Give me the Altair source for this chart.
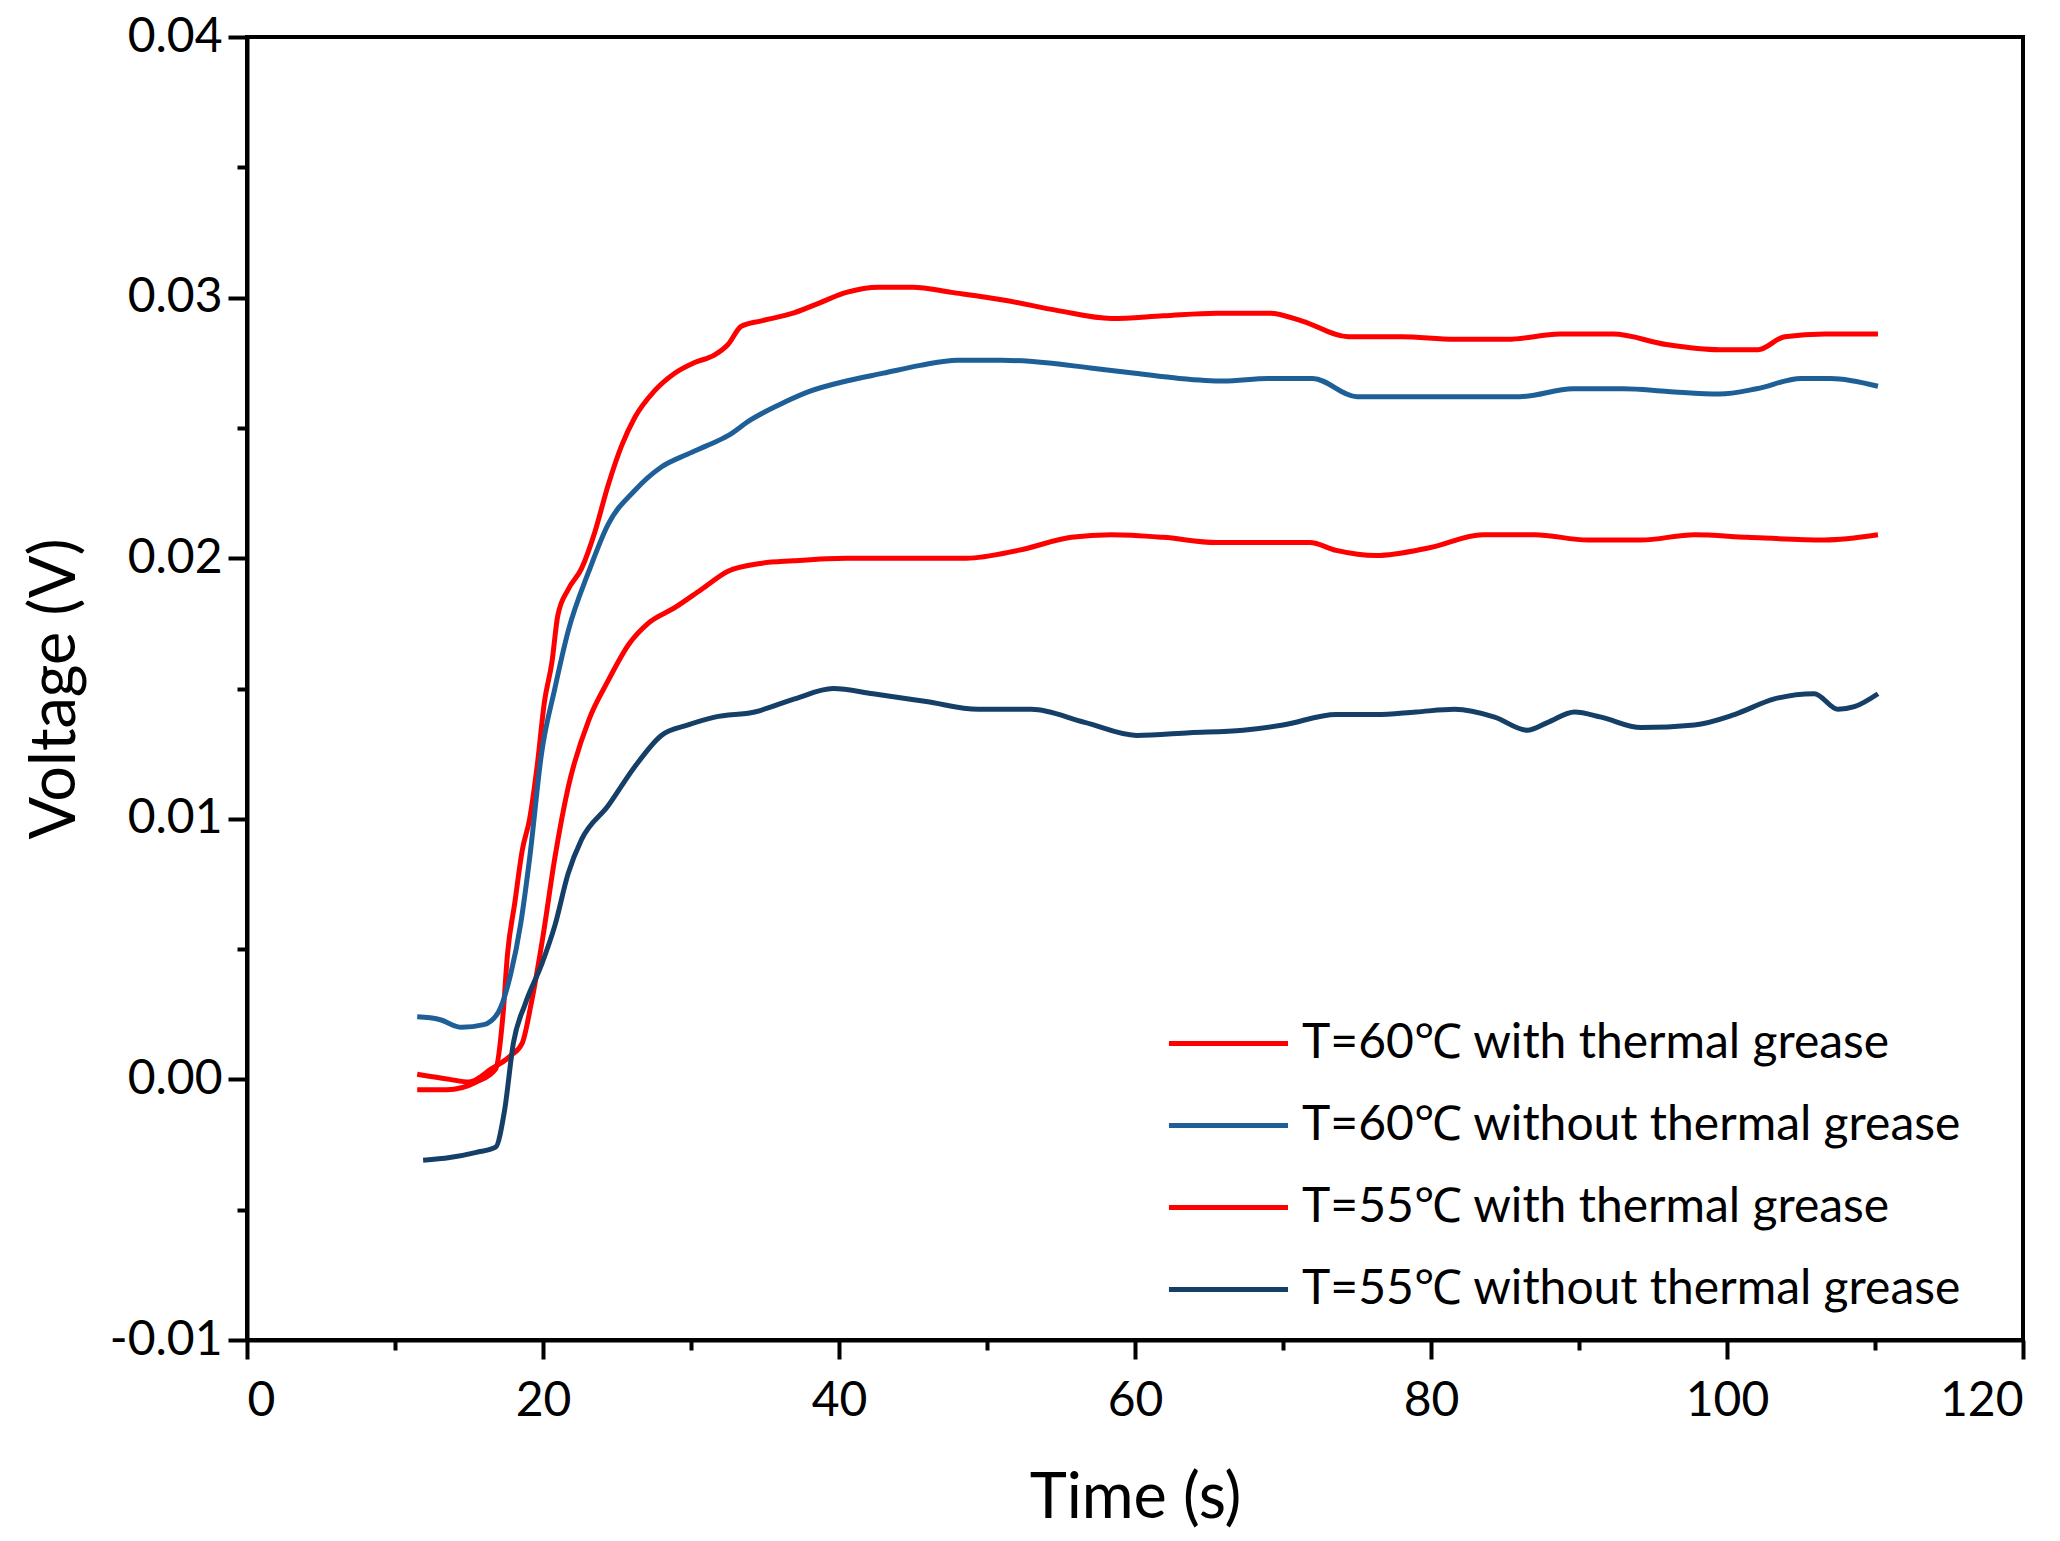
import altair as alt
import pandas as pd

series_names = [
    "T=60℃ with thermal grease",
    "T=60℃ without thermal grease",
    "T=55℃ with thermal grease",
    "T=55℃ without thermal grease",
]
series_colors = ["#ff0000", "#1f5f98", "#ff0000", "#163f68"]

t_60_with = [11.5, 13.5, 15.5, 16.8, 17.3, 17.6, 18.1, 18.6, 19.1, 19.6, 20.1, 20.6, 21.0, 21.7, 22.6,
             23.5, 24.4, 25.3, 26.2, 27.5, 28.9, 30.2, 31.6, 32.5, 33.4, 34.7, 36.9, 38.7, 40.5, 42.7,
             45.0, 47.6, 51.2, 54.8, 58.4, 61.9, 65.5, 69.1, 71.3, 74.4, 78.0, 81.6, 85.2, 88.7, 92.3,
             95.9, 99.5, 102.1, 103.9, 106.6, 110.2]
v_60_with = [-0.0004, -0.0004, -0.0001, 0.0004, 0.0025, 0.0048, 0.0068, 0.0088, 0.0100, 0.0120, 0.0145,
             0.0160, 0.0178, 0.0188, 0.0196, 0.0210, 0.0228, 0.0243, 0.0254, 0.0264, 0.0271, 0.0275,
             0.0278, 0.0282, 0.0289, 0.0291, 0.0294, 0.0298, 0.0302, 0.0304, 0.0304, 0.0302, 0.0299,
             0.0295, 0.0292, 0.0293, 0.0294, 0.0294, 0.0291, 0.0285, 0.0285, 0.0284, 0.0284, 0.0286,
             0.0286, 0.0282, 0.0280, 0.0280, 0.0285, 0.0286, 0.0286]

t_60_without = [11.5, 13.0, 14.5, 16.0, 17.0, 17.8, 18.5, 19.1, 19.9, 20.8, 21.7, 23.1, 24.4, 26.2, 28.0,
                29.8, 31.0, 32.5, 34.0, 36.0, 38.0, 40.5, 43.0, 45.5, 48.0, 51.0, 54.0, 57.0, 60.0, 63.0,
                66.0, 69.0, 72.0, 75.0, 78.0, 82.0, 86.0, 89.6, 93.0, 96.0, 99.5, 102.0, 105.0, 107.0, 110.2]
v_60_without = [0.0024, 0.0023, 0.0020, 0.0021, 0.0026, 0.0040, 0.0060, 0.0085, 0.0125, 0.0150, 0.0172,
                0.0195, 0.0213, 0.0226, 0.0235, 0.0240, 0.0243, 0.0247, 0.0253, 0.0259, 0.0264, 0.0268,
                0.0271, 0.0274, 0.0276, 0.0276, 0.0275, 0.0273, 0.0271, 0.0269, 0.0268, 0.0269, 0.0269,
                0.0262, 0.0262, 0.0262, 0.0262, 0.0265, 0.0265, 0.0264, 0.0263, 0.0265, 0.0269, 0.0269,
                0.0266]

t_55_with = [11.5, 13.7, 15.0, 16.5, 17.8, 18.6, 19.2, 20.0, 20.8, 21.7, 23.1, 24.4, 25.8, 27.1, 28.9,
             30.7, 32.5, 34.7, 36.9, 40.5, 44.1, 48.6, 52.1, 55.7, 58.4, 61.9, 65.5, 69.1, 71.8, 73.6,
             76.3, 79.9, 83.5, 87.0, 90.6, 94.2, 97.8, 101.4, 106.6, 110.2]
v_55_with = [0.0002, 0.0000, -0.0001, 0.0004, 0.0009, 0.0014, 0.0029, 0.0055, 0.0085, 0.0112, 0.0138,
             0.0153, 0.0167, 0.0175, 0.0181, 0.0188, 0.0195, 0.0198, 0.0199, 0.0200, 0.0200, 0.0200,
             0.0203, 0.0208, 0.0209, 0.0208, 0.0206, 0.0206, 0.0206, 0.0203, 0.0201, 0.0204, 0.0209,
             0.0209, 0.0207, 0.0207, 0.0209, 0.0208, 0.0207, 0.0209]

t_55_without = [11.9, 13.7, 15.5, 16.8, 17.4, 18.0, 18.8, 19.9, 20.8, 21.7, 22.6, 24.4, 26.2, 28.0, 29.8,
                31.6, 34.3, 37.0, 39.6, 42.3, 45.9, 49.4, 53.0, 56.6, 60.1, 63.7, 67.3, 70.0, 73.6, 76.3,
                79.0, 81.6, 84.3, 86.5, 87.9, 89.7, 91.5, 94.2, 97.8, 100.5, 103.2, 105.9, 107.5, 108.6,
                110.2]
v_55_without = [-0.0031, -0.0030, -0.0028, -0.0026, -0.0012, 0.0014, 0.0029, 0.0044, 0.0059, 0.0079,
                0.0092, 0.0105, 0.0120, 0.0132, 0.0136, 0.0139, 0.0141, 0.0146, 0.0150, 0.0148, 0.0145,
                0.0142, 0.0142, 0.0137, 0.0132, 0.0133, 0.0134, 0.0136, 0.0140, 0.0140, 0.0141, 0.0142,
                0.0139, 0.0134, 0.0137, 0.0141, 0.0139, 0.0135, 0.0136, 0.0140, 0.0146, 0.0148, 0.0142,
                0.0143, 0.0148]

x_ticks = [0, 10, 20, 30, 40, 50, 60, 70, 80, 90, 100, 110, 120]
y_ticks = [-0.01, -0.005, 0.0, 0.005, 0.01, 0.015, 0.02, 0.025, 0.03, 0.035, 0.04]

frames = []
for name, ts, vs in zip(series_names,
                        [t_60_with, t_60_without, t_55_with, t_55_without],
                        [v_60_with, v_60_without, v_55_with, v_55_without]):
    frames.append(pd.DataFrame({"time": ts, "voltage": vs, "series": name}))
df = pd.concat(frames, ignore_index=True)

FONT = "Lato"

x_axis = alt.Axis(
    values=x_ticks,
    title="Time (s)",
    labelExpr="datum.value % 20 === 0 ? datum.label : ''",
    tickSize={"condition": {"test": "datum.value % 20 !== 0", "value": 10}, "value": 19},
    labelPadding=18,
    titlePadding=42,
    grid=False,
)
y_axis = alt.Axis(
    values=y_ticks,
    title="Voltage (V)",
    labelExpr="abs(datum.value*100 - round(datum.value*100)) < 0.001 ? replace(format(datum.value, '.2f'), '\u2212', '-') : ''",
    tickSize={"condition": {"test": "abs(datum.value*100 - round(datum.value*100)) > 0.001", "value": 10}, "value": 19},
    labelPadding=6,
    titlePadding=22,
    grid=False,
)

chart = alt.Chart(df).mark_line(strokeWidth=5, interpolate="monotone").encode(
    x=alt.X("time:Q", scale=alt.Scale(domain=[0, 120], nice=False, zero=False), axis=x_axis),
    y=alt.Y("voltage:Q", scale=alt.Scale(domain=[-0.01, 0.04], nice=False, zero=False), axis=y_axis),
    color=alt.Color(
        "series:N",
        scale=alt.Scale(domain=series_names, range=series_colors),
        sort=series_names,
        legend=alt.Legend(
            title=None,
            orient="none",
            legendX=939,
            legendY=964,
            symbolType="M-1.5,0H1.5",
            symbolSize=6300,
            symbolStrokeWidth=5,
            labelFontSize=48,
            labelFont=FONT,
            labelColor="black",
            labelOffset=31,
            rowPadding=15,
            labelLimit=1000,
        ),
    ),
    order=alt.Order("time:Q"),
    detail="series:N",
).properties(
    width=1776,
    height=1303,
    autosize=alt.AutoSizeParams(type="none"),
    padding={"left": 239, "top": 29, "right": 29, "bottom": 193},
).configure_view(
    stroke="black", strokeWidth=4
).configure_axis(
    domainColor="black", domainWidth=4, tickColor="black", tickWidth=4,
    labelFont=FONT, labelFontSize=48, labelColor="black",
    titleFont=FONT, titleFontSize=63, titleFontWeight="normal", titleColor="black",
)

chart.save("out.html", embed_options={"renderer": "svg", "actions": False})
